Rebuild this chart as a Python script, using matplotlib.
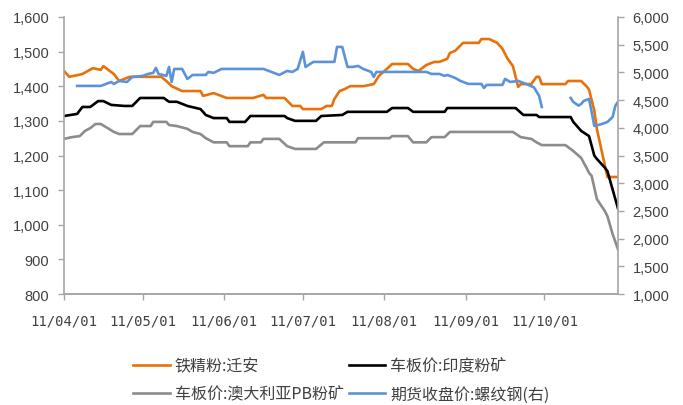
import matplotlib
matplotlib.use("Agg")
import matplotlib.pyplot as plt
import matplotlib.dates as mdates
import numpy as np
import pandas as pd

plt.rcParams['font.family'] = ['Noto Sans CJK SC', 'DejaVu Sans']

# 铁精粉:迁安 (left axis)
qa_dates = ['2011-04-01', '2011-04-03', '2011-04-08', '2011-04-12', '2011-04-15', '2011-04-16',
            '2011-04-20', '2011-04-22', '2011-04-26', '2011-05-08', '2011-05-10', '2011-05-12',
            '2011-05-16', '2011-05-23', '2011-05-24', '2011-05-28', '2011-06-02', '2011-06-12',
            '2011-06-16', '2011-06-17', '2011-06-24', '2011-06-27', '2011-06-30', '2011-07-01',
            '2011-07-08', '2011-07-10', '2011-07-12', '2011-07-13', '2011-07-15', '2011-07-17',
            '2011-07-19', '2011-07-24', '2011-07-28', '2011-07-30', '2011-08-02', '2011-08-04',
            '2011-08-10', '2011-08-12', '2011-08-14', '2011-08-17', '2011-08-20', '2011-08-22',
            '2011-08-25', '2011-08-26', '2011-08-28', '2011-08-31', '2011-09-06', '2011-09-07',
            '2011-09-10', '2011-09-13', '2011-09-15', '2011-09-17', '2011-09-19', '2011-09-21',
            '2011-09-22', '2011-09-26', '2011-09-28', '2011-09-29', '2011-09-30', '2011-10-09',
            '2011-10-10', '2011-10-15', '2011-10-17', '2011-10-18', '2011-10-20', '2011-10-21',
            '2011-10-25', '2011-10-29']
qa_vals = [1444, 1427, 1435, 1452, 1447, 1458,
           1435, 1415, 1427, 1427, 1415, 1400,
           1386, 1386, 1372, 1380, 1366, 1366,
           1375, 1366, 1366, 1343, 1343, 1334,
           1334, 1343, 1343, 1363, 1386, 1392,
           1400, 1400, 1406, 1430, 1450, 1464,
           1464, 1450, 1444, 1461, 1470, 1470,
           1479, 1496, 1502, 1525, 1525, 1536,
           1536, 1525, 1508, 1479, 1458, 1398,
           1406, 1406, 1427, 1427, 1406, 1406,
           1415, 1415, 1400, 1390, 1330, 1276,
           1138, 1138]

# 车板价:印度粉矿 (left axis)
india_dates = ['2011-04-01', '2011-04-06', '2011-04-08', '2011-04-11', '2011-04-14', '2011-04-16',
               '2011-04-19', '2011-04-24', '2011-04-27', '2011-04-30', '2011-05-09', '2011-05-11',
               '2011-05-14', '2011-05-18', '2011-05-23', '2011-05-25', '2011-05-28', '2011-06-02',
               '2011-06-03', '2011-06-09', '2011-06-11', '2011-06-24', '2011-06-25', '2011-06-28',
               '2011-07-06', '2011-07-08', '2011-07-16', '2011-07-18', '2011-08-02', '2011-08-04',
               '2011-08-10', '2011-08-12', '2011-08-24', '2011-08-25', '2011-09-20', '2011-09-23',
               '2011-09-28', '2011-09-29', '2011-10-11', '2011-10-12', '2011-10-15', '2011-10-18',
               '2011-10-20', '2011-10-21', '2011-10-24', '2011-10-25', '2011-10-29']
india_vals = [1314, 1320, 1340, 1340, 1357, 1357,
              1346, 1343, 1343, 1366, 1366, 1355,
              1355, 1343, 1334, 1317, 1308, 1308,
              1297, 1297, 1314, 1314, 1308, 1300,
              1300, 1314, 1317, 1326, 1326, 1337,
              1337, 1326, 1326, 1337, 1337, 1317,
              1317, 1311, 1311, 1297, 1271, 1256,
              1200, 1190, 1165, 1155, 1048]

# 车板价:澳大利亚PB粉矿 (left axis)
pb_dates = ['2011-04-01', '2011-04-04', '2011-04-07', '2011-04-09', '2011-04-11', '2011-04-13',
            '2011-04-15', '2011-04-17', '2011-04-20', '2011-04-22', '2011-04-27', '2011-04-30',
            '2011-05-04', '2011-05-05', '2011-05-10', '2011-05-11', '2011-05-14', '2011-05-18',
            '2011-05-20', '2011-05-23', '2011-05-25', '2011-05-28', '2011-06-02', '2011-06-03',
            '2011-06-10', '2011-06-11', '2011-06-15', '2011-06-16', '2011-06-22', '2011-06-25',
            '2011-06-28', '2011-07-06', '2011-07-09', '2011-07-21', '2011-07-22', '2011-08-03',
            '2011-08-04', '2011-08-10', '2011-08-12', '2011-08-17', '2011-08-19', '2011-08-24',
            '2011-08-26', '2011-09-19', '2011-09-22', '2011-09-26', '2011-09-28', '2011-09-30',
            '2011-10-09', '2011-10-12', '2011-10-15', '2011-10-17', '2011-10-18', '2011-10-19',
            '2011-10-21', '2011-10-24', '2011-10-25', '2011-10-27', '2011-10-29']
pb_vals = [1248, 1253, 1256, 1271, 1279, 1291,
           1291, 1282, 1268, 1262, 1262, 1285,
           1285, 1297, 1297, 1288, 1285, 1277,
           1268, 1262, 1250, 1238, 1238, 1227,
           1227, 1238, 1238, 1248, 1248, 1227,
           1219, 1219, 1238, 1238, 1250, 1250,
           1256, 1256, 1238, 1238, 1253, 1253,
           1268, 1268, 1253, 1248, 1238, 1230,
           1230, 1213, 1193, 1165, 1150, 1141,
           1074, 1040, 1025, 973, 930]

# 期货收盘价:螺纹钢 (right axis), None = holiday gap
rb_dates = ['2011-04-06', '2011-04-15', '2011-04-19', '2011-04-20', '2011-04-22', '2011-04-25',
            '2011-04-27', '2011-05-01', '2011-05-03', '2011-05-05', '2011-05-06', '2011-05-07',
            '2011-05-10', '2011-05-11', '2011-05-12', '2011-05-13', '2011-05-16', '2011-05-18',
            '2011-05-20', '2011-05-25', '2011-05-26', '2011-05-28', '2011-05-31', '2011-06-16',
            '2011-06-19', '2011-06-22', '2011-06-25', '2011-06-27', '2011-06-29', '2011-07-01',
            '2011-07-02', '2011-07-05', '2011-07-13', '2011-07-14', '2011-07-16', '2011-07-18',
            '2011-07-20', '2011-07-22', '2011-07-24', '2011-07-27', '2011-07-28', '2011-07-29',
            '2011-08-17', '2011-08-19', '2011-08-22', '2011-08-24', '2011-08-25', '2011-08-26',
            '2011-08-28', '2011-08-30', '2011-09-02', '2011-09-07', '2011-09-08', '2011-09-09',
            '2011-09-15', '2011-09-16', '2011-09-18', '2011-09-21', '2011-09-24', '2011-09-27',
            '2011-09-29', '2011-09-30', '2011-10-05', '2011-10-11', '2011-10-12', '2011-10-14',
            '2011-10-15', '2011-10-16', '2011-10-18', '2011-10-19', '2011-10-20', '2011-10-23',
            '2011-10-25', '2011-10-27', '2011-10-28', '2011-10-29']
rb_vals = [4755, 4755, 4825, 4790, 4845, 4826,
           4917, 4935, 4971, 4990, 5080, 4971,
           4935, 5097, 4826, 5061, 5061, 4881,
           4953, 4953, 5007, 4990, 5061, 5061,
           5007, 4953, 5025, 5007, 5061, 5368,
           5097, 5188, 5188, 5458, 5458, 5097,
           5097, 5116, 5061, 5007, 4917, 5007,
           5007, 4971, 4971, 4935, 4953, 4935,
           4899, 4845, 4791, 4791, 4718, 4773,
           4773, 4881, 4826, 4845, 4791, 4730,
           4574, 4375, None, 4538, 4466, 4400,
           4430, 4484, 4520, 4285, 4033, 4069,
           4105, 4195, 4394, 4466]

month_ticks = ['2011-04-01', '2011-05-01', '2011-06-01', '2011-07-01',
               '2011-08-01', '2011-09-01', '2011-10-01']

axis_col = '#A6A6A6'
text_col = '#404040'

fig = plt.figure(figsize=(6.83, 4.06), dpi=100)
fig.patch.set_facecolor('white')
ax = fig.add_axes([0.0937, 0.273, 0.811, 0.683])
ax2 = ax.twinx()

ax.plot(pd.to_datetime(qa_dates), qa_vals, color='#E8710A', lw=1.9, label='铁精粉:迁安')
ax.plot(pd.to_datetime(india_dates), india_vals, color='black', lw=1.9, label='车板价:印度粉矿')
ax.plot(pd.to_datetime(pb_dates), pb_vals, color='#8C8C8C', lw=1.9, label='车板价:澳大利亚PB粉矿')
rb = np.array([np.nan if v is None else v for v in rb_vals], dtype=float)
ax2.plot(pd.to_datetime(rb_dates), rb, color='#5B93D9', lw=1.9, label='期货收盘价:螺纹钢(右)')

ax.set_xlim(pd.Timestamp('2011-04-01'), pd.Timestamp('2011-10-29'))
ax.set_ylim(800, 1600)
ax.set_yticks(np.arange(800, 1601, 100))
ax.yaxis.set_major_formatter(matplotlib.ticker.StrMethodFormatter('{x:,.0f}'))
ax2.set_ylim(1000, 6000)
ax2.set_yticks(np.arange(1000, 6001, 500))
ax2.yaxis.set_major_formatter(matplotlib.ticker.StrMethodFormatter('{x:,.0f}'))

ax.set_xticks(pd.to_datetime(month_ticks))
ax.xaxis.set_major_formatter(mdates.DateFormatter('%y/%m/%d'))

for a in (ax, ax2):
    a.spines['top'].set_visible(False)
    for s in ('left', 'right', 'bottom'):
        a.spines[s].set_color(axis_col)
        a.spines[s].set_linewidth(1.2)
    a.tick_params(axis='both', colors=axis_col, labelcolor=text_col, labelsize=10.5,
                  length=4, width=1, pad=6.5)
    for t in a.get_yticklabels():
        t.set_family('Liberation Sans')
ax.tick_params(axis='x', pad=10, labelsize=10)
for t in ax.get_xticklabels():
    t.set_family('DejaVu Sans Mono')
ax2.spines['left'].set_visible(False)
ax.spines['right'].set_visible(False)

h1, l1 = ax.get_legend_handles_labels()
h2, l2 = ax2.get_legend_handles_labels()
handles = [h1[0], h1[2], h1[1], h2[0]]
labels = [l1[0], l1[2], l1[1], l2[0]]
fig.legend(handles, labels, ncol=2, loc='center', bbox_to_anchor=(0.5, 0.062),
           frameon=False, fontsize=11.5, handlelength=2.3, columnspacing=0.3,
           handletextpad=0.3, labelspacing=0.7, labelcolor=text_col)

fig.savefig('out.png', dpi=100)
